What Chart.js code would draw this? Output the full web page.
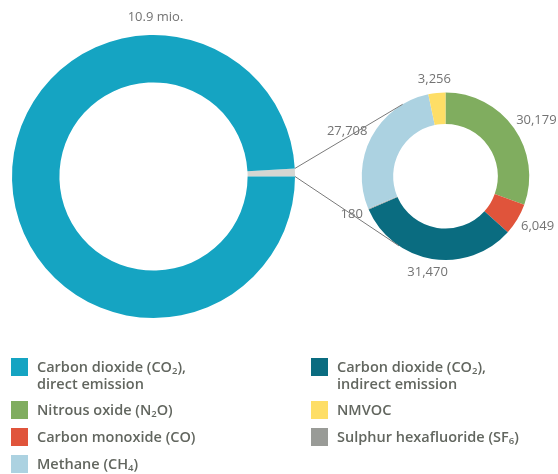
<!DOCTYPE html>
<html>
<head>
<meta charset="utf-8">
<script src="https://cdn.jsdelivr.net/npm/chart.js@4.4.1/dist/chart.umd.min.js"></script>
<style>
  html, body { margin: 0; padding: 0; background: #fff; }
  #wrap { position: relative; width: 558px; height: 474px; overflow: hidden; }
  #wrap canvas { position: absolute; left: 0; top: 0; }
  .legend { position: absolute; font-family: "Open Sans", sans-serif; font-weight: 600; font-size: 14.5px; color: #62665f; line-height: 17.5px; }
  .item { position: absolute; white-space: nowrap; }
  .sw { position: absolute; left: 0; top: 0; width: 17px; height: 18px; }
  .lbl { position: absolute; left: 26px; top: -0.5px; }
  sub { font-size: 9.5px; vertical-align: -2px; line-height: 0; }
</style>
</head>
<body>
<div id="wrap">
  <canvas id="big" width="558" height="474"></canvas>
  <canvas id="small" width="558" height="474"></canvas>
  <div class="legend" id="legend"></div>
</div>
<script>
// --- data ---
const totalLabel = '10.9 mio.';
const bigLabels = ['Carbon dioxide (CO2), direct emission', 'Other gases'];
const bigValues = [10900000, 98842];
const bigColors = ['#15a4c2', '#d5d6d2'];

const smallLabels = ['Nitrous oxide (N2O)', 'Carbon monoxide (CO)', 'Carbon dioxide (CO2), indirect emission',
  'Sulphur hexafluoride (SF6)', 'Methane (CH4)', 'NMVOC'];
const smallValues = [30179, 6049, 31470, 180, 27708, 3256];
const smallColors = ['#80ad5f', '#e0543b', '#0a6c80', '#999b97', '#acd2e1', '#fede66'];

// legend entries: [colour, html text, column, row]
const legendItems = [
  ['#15a4c2', 'Carbon dioxide (CO<sub>2</sub>),<br>direct emission', 0, 0],
  ['#80ad5f', 'Nitrous oxide (N<sub>2</sub>O)', 0, 1],
  ['#e0543b', 'Carbon monoxide (CO)', 0, 2],
  ['#acd2e1', 'Methane (CH<sub>4</sub>)', 0, 3],
  ['#0a6c80', 'Carbon dioxide (CO<sub>2</sub>),<br>indirect emission', 1, 0],
  ['#fede66', 'NMVOC', 1, 1],
  ['#999b97', 'Sulphur hexafluoride (SF<sub>6</sub>)', 1, 2]
];

const fmt = (v) => v.toLocaleString('en-US');
const labelFont = '13px "Open Sans", sans-serif';
const labelColor = '#737373';

// --- big doughnut ---
const bigText = {
  id: 'bigText',
  afterDraw(chart) {
    const arc = chart.getDatasetMeta(0).data[0];
    const ctx = chart.ctx;
    ctx.save();
    ctx.font = labelFont;
    ctx.fillStyle = labelColor;
    ctx.textAlign = 'center';
    ctx.textBaseline = 'middle';
    ctx.fillText(totalLabel, arc.x + 2, arc.y - arc.outerRadius - 18);
    ctx.restore();
  }
};

const bigChart = new Chart(document.getElementById('big'), {
  type: 'doughnut',
  data: {
    labels: bigLabels,
    datasets: [{ data: [bigValues[1], bigValues[0]], backgroundColor: [bigColors[1], bigColors[0]], borderWidth: 0 }]
  },
  options: {
    responsive: false,
    animation: false,
    cutout: '66.5%',
    rotation: 90 - 360 * bigValues[1] / (bigValues[0] + bigValues[1]),
    layout: { padding: { left: 12, top: 35, right: 263, bottom: 156 } },
    plugins: { legend: { display: false }, tooltip: { enabled: false } }
  },
  plugins: [bigText]
});

// --- small doughnut with values and connector lines ---
const smallText = {
  id: 'smallText',
  afterDraw(chart) {
    const ctx = chart.ctx;
    const meta = chart.getDatasetMeta(0);
    ctx.save();
    ctx.font = labelFont;
    ctx.fillStyle = labelColor;
    ctx.textAlign = 'center';
    ctx.textBaseline = 'middle';
    meta.data.forEach((arc, i) => {
      const a = (arc.startAngle + arc.endAngle) / 2;
      const txt = fmt(smallValues[i]);
      const w = ctx.measureText(txt).width;
      const r = arc.outerRadius + 7;
      const cx = Math.cos(a), cy = Math.sin(a);
      ctx.fillText(txt, arc.x + cx * (r + w / 2), arc.y + cy * (r + 7));
    });

    // tangent lines from the grey slice of the big doughnut to the small ring
    const g = bigChart.getDatasetMeta(0).data[0];
    const c0 = meta.data[0];
    const R = c0.outerRadius;
    const pts = [g.startAngle, g.endAngle].map(t => [g.x + Math.cos(t) * g.outerRadius, g.y + Math.sin(t) * g.outerRadius]);
    ctx.strokeStyle = '#7a7a7a';
    ctx.lineWidth = 1;
    pts.forEach((p, k) => {
      const dx = p[0] - c0.x, dy = p[1] - c0.y;
      const d = Math.hypot(dx, dy);
      const base = Math.atan2(dy, dx);
      const off = Math.acos(R / d);
      const t = k === 0 ? base + off : base - off;
      ctx.beginPath();
      ctx.moveTo(p[0], p[1]);
      ctx.lineTo(c0.x + Math.cos(t) * R, c0.y + Math.sin(t) * R);
      ctx.stroke();
    });
    ctx.restore();
  }
};

new Chart(document.getElementById('small'), {
  type: 'doughnut',
  data: {
    labels: smallLabels,
    datasets: [{ data: smallValues, backgroundColor: smallColors, borderWidth: 0 }]
  },
  options: {
    responsive: false,
    animation: false,
    cutout: '62.5%',
    layout: { padding: { left: 361.5, top: 92.5, right: 28.5, bottom: 214 } },
    plugins: { legend: { display: false }, tooltip: { enabled: false } }
  },
  plugins: [smallText]
});

// --- legend ---
const legend = document.getElementById('legend');
const rowTops = [358, 401, 428, 455];
legendItems.forEach(([color, html, col, row]) => {
  const el = document.createElement('div');
  el.className = 'item';
  el.style.left = (col === 0 ? 11 : 311) + 'px';
  el.style.top = rowTops[row] + 'px';
  el.innerHTML = `<div class="sw" style="background:${color}"></div><div class="lbl">${html}</div>`;
  legend.appendChild(el);
});
</script>
</body>
</html>
